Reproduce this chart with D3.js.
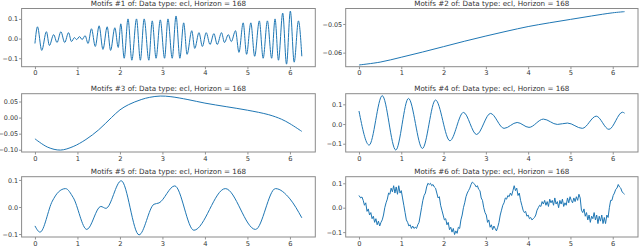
<!DOCTYPE html>
<html><head><meta charset="utf-8">
<script src="https://cdn.jsdelivr.net/npm/d3@7"></script>
<style>html,body{margin:0;padding:0;background:#fff;}svg{display:block;}</style>
</head><body>
<svg id="c" width="640" height="247"></svg>
<script>
const titles = [
  "Motifs #1 of: Data type: ecl, Horizon = 168",
  "Motifs #2 of: Data type: ecl, Horizon = 168",
  "Motifs #3 of: Data type: ecl, Horizon = 168",
  "Motifs #4 of: Data type: ecl, Horizon = 168",
  "Motifs #5 of: Data type: ecl, Horizon = 168",
  "Motifs #6 of: Data type: ecl, Horizon = 168"
];
const xTicks = [0,1,2,3,4,5,6];
const xLim = [-0.314, 6.597];

const yTicks1 = [0.1, 0.0, -0.1];
const yLabels1 = ["0.1","0.0","\u22120.1"];
const yTicks2 = [-0.05, -0.06];
const yLabels2 = ["\u22120.05","\u22120.06"];
const yTicks3 = [0.05, 0.0, -0.05, -0.10];
const yLabels3 = ["0.05","0.00","\u22120.05","\u22120.10"];
const yTicks4 = [0.1, 0.0, -0.1];
const yLabels4 = ["0.1","0.0","\u22120.1"];
const yTicks5 = [0.1, 0.0, -0.1];
const yLabels5 = ["0.1","0.0","\u22120.1"];
const yTicks6 = [0.1, 0.0, -0.1];
const yLabels6 = ["0.1","0.0","\u22120.1"];

const yLim1 = [-0.143, 0.153];
const yLim2 = [-0.0649, -0.0446];
const yLim3 = [-0.107, 0.0743];
const yLim4 = [-0.142, 0.154];
const yLim5 = [-0.111, 0.112];
const yLim6 = [-0.120, 0.127];

// Motif 1: fast oscillation (turning points)
const motif1 = [
 [0,-0.025],[0.06,0.06],[0.16,-0.06],[0.27,0.035],[0.34,-0.035],[0.44,0.02],[0.52,-0.02],
 [0.61,0.035],[0.70,-0.02],[0.79,0.03],[0.86,-0.015],[0.93,0.005],[0.98,-0.005],[1.05,0.01],
 [1.11,-0.005],[1.18,0.015],[1.25,-0.025],[1.33,0.05],[1.42,-0.04],[1.51,0.065],[1.60,-0.055],
 [1.70,0.06],[1.78,-0.06],[1.88,0.055],[1.96,-0.045],[2.02,0.075],[2.10,-0.10],[2.19,0.10],
 [2.28,-0.11],[2.39,0.10],[2.48,-0.11],[2.57,0.10],[2.68,-0.11],[2.76,0.09],[2.85,-0.10],
 [2.95,0.095],[3.05,-0.10],[3.13,0.10],[3.23,-0.10],[3.32,0.115],[3.41,-0.10],[3.50,0.08],
 [3.58,-0.08],[3.69,0.04],[3.76,-0.05],[3.86,0.03],[3.94,-0.04],[4.03,0.03],[4.12,-0.03],
 [4.21,0.025],[4.29,-0.03],[4.39,0.03],[4.46,-0.02],[4.55,0.02],[4.62,-0.015],[4.72,0.04],
 [4.80,-0.07],[4.90,0.08],[4.98,-0.08],[5.08,0.08],[5.17,-0.09],[5.28,0.09],[5.37,-0.10],
 [5.47,0.09],[5.57,-0.10],[5.65,0.10],[5.73,-0.11],[5.83,0.13],[5.92,-0.13],[6.01,0.14],
 [6.10,-0.12],[6.20,0.09],[6.28,-0.09]
];
const motif2 = [
 [0,-0.0643],[0.5,-0.0633],[1,-0.0616],[1.5,-0.0598],[2,-0.0579],[2.5,-0.0560],[3,-0.0542],
 [3.5,-0.0525],[4,-0.0509],[4.5,-0.0496],[5,-0.0484],[5.5,-0.0472],[6,-0.0461],[6.28,-0.0457]
];
const motif3 = [
 [0,-0.066],[0.3,-0.092],[0.6,-0.101],[0.9,-0.090],[1.2,-0.068],[1.5,-0.038],[1.8,0.000],
 [2.0,0.024],[2.2,0.040],[2.5,0.056],[2.7,0.063],[2.95,0.067],[3.2,0.065],[3.6,0.056],
 [4.0,0.045],[4.5,0.034],[5.0,0.023],[5.5,0.009],[5.8,-0.005],[6.0,-0.019],[6.28,-0.043]
];
const motif4 = [
 [0,0.066],[0.24,-0.107],[0.55,0.144],[0.87,-0.132],[1.17,0.13],[1.50,-0.124],[1.81,0.122],
 [2.15,-0.085],[2.47,0.059],[2.78,-0.053],[3.11,0.054],[3.43,-0.022],[3.74,0.008],[4.02,-0.017],
 [4.36,0.025],[4.69,-0.002],[4.93,0.005],[5.28,-0.022],[5.61,0.04],[5.91,-0.027],[6.23,0.06],[6.28,0.055]
];
const motif5 = [
 [0,-0.07],[0.12,-0.093],[0.41,0.022],[0.55,0.055],[0.72,0.068],[0.90,0.035],[1.22,-0.083],
 [1.55,0.002],[1.67,-0.005],[2.03,0.097],[2.45,-0.103],[2.80,0.010],[2.92,0.015],[3.29,0.078],
 [3.74,-0.086],[4.48,0.068],[5.19,-0.083],[5.66,0.068],[6.0,0.03],[6.28,-0.04]
];
const motif6 = [
 [0.00,0.050],[0.04,0.040],[0.07,0.044],[0.10,0.030],[0.13,0.010],[0.16,0.020],[0.19,-0.015],
 [0.22,-0.005],[0.25,-0.030],[0.28,-0.020],[0.31,-0.045],[0.34,-0.035],[0.37,-0.060],[0.40,-0.045],
 [0.43,-0.070],[0.46,-0.055],[0.49,-0.075],[0.52,-0.060],[0.55,-0.050],[0.58,-0.030],[0.61,0.000],
 [0.64,0.020],[0.67,0.035],[0.70,0.060],[0.73,0.055],[0.76,0.080],[0.79,0.065],[0.82,0.090],
 [0.85,0.060],[0.88,0.085],[0.91,0.055],[0.94,0.090],[0.97,0.060],[1.00,0.070],[1.03,0.040],
 [1.06,0.010],[1.09,-0.020],[1.12,-0.050],[1.15,-0.060],[1.18,-0.075],[1.21,-0.070],[1.24,-0.085],
 [1.27,-0.075],[1.30,-0.085],[1.33,-0.080],[1.36,-0.085],[1.39,-0.070],[1.42,-0.060],[1.45,-0.030],
 [1.48,0.000],[1.51,0.030],[1.54,0.050],[1.57,0.060],[1.60,0.085],[1.63,0.100],[1.66,0.095],
 [1.69,0.100],[1.72,0.090],[1.75,0.095],[1.78,0.085],[1.81,0.080],[1.84,0.060],[1.87,0.040],
 [1.90,0.045],[1.93,0.010],[1.96,-0.010],[1.99,-0.030],[2.02,-0.050],[2.05,-0.045],[2.08,-0.070],
 [2.11,-0.060],[2.14,-0.090],[2.17,-0.080],[2.20,-0.100],[2.23,-0.085],[2.26,-0.110],[2.29,-0.095],
 [2.32,-0.105],[2.35,-0.080],[2.38,-0.085],[2.41,-0.050],[2.44,-0.030],[2.47,0.000],[2.50,0.020],
 [2.53,0.045],[2.56,0.060],[2.59,0.070],[2.62,0.080],[2.65,0.095],[2.68,0.105],[2.71,0.100],
 [2.74,0.095],[2.77,0.085],[2.80,0.090],[2.83,0.075],[2.86,0.070],[2.89,0.040],[2.92,0.030],
 [2.95,0.000],[2.98,-0.020],[3.01,-0.030],[3.04,-0.060],[3.07,-0.050],[3.10,-0.080],[3.13,-0.070],
 [3.16,-0.090],[3.19,-0.075],[3.22,-0.085],[3.25,-0.095],[3.28,-0.080],[3.31,-0.060],[3.34,-0.030],
 [3.37,-0.010],[3.40,0.010],[3.43,0.020],[3.46,0.040],[3.49,0.035],[3.52,0.050],[3.55,0.045],
 [3.58,0.060],[3.61,0.050],[3.64,0.070],[3.67,0.090],[3.70,0.070],[3.73,0.080],[3.76,0.050],
 [3.79,0.060],[3.82,0.030],[3.85,0.010],[3.88,-0.010],[3.91,-0.020],[3.94,-0.015],[3.97,-0.035],
 [4.00,-0.030],[4.03,-0.045],[4.06,-0.040],[4.09,-0.050],[4.12,-0.045],[4.15,-0.040],[4.18,-0.030],
 [4.21,-0.010],[4.24,0.000],[4.27,0.010],[4.30,0.005],[4.33,0.025],[4.36,0.015],[4.39,0.030],
 [4.42,0.010],[4.45,0.025],[4.48,0.005],[4.51,0.035],[4.54,0.020],[4.57,0.030],[4.60,0.010],
 [4.63,0.040],[4.66,0.015],[4.69,0.025],[4.72,0.000],[4.75,0.030],[4.78,0.015],[4.81,0.035],
 [4.84,0.005],[4.87,0.020],[4.90,0.010],[4.93,0.040],[4.96,0.020],[4.99,0.045],[5.02,0.030],
 [5.05,0.020],[5.08,0.040],[5.11,0.025],[5.14,0.045],[5.17,0.030],[5.20,0.055],[5.23,0.040],
 [5.26,-0.010],[5.29,-0.020],[5.32,-0.005],[5.35,-0.035],[5.38,-0.020],[5.41,-0.050],[5.44,-0.030],
 [5.47,-0.060],[5.50,-0.035],[5.53,-0.045],[5.56,-0.020],[5.59,-0.050],[5.62,-0.030],[5.65,-0.065],
 [5.68,-0.035],[5.71,-0.055],[5.74,-0.030],[5.77,-0.065],[5.80,-0.040],[5.83,-0.065],[5.86,-0.030],
 [5.89,-0.040],[5.92,0.000],[5.95,0.030],[5.98,0.030],[6.01,0.050],[6.04,0.060],[6.07,0.075],
 [6.10,0.080],[6.13,0.095],[6.16,0.085],[6.19,0.080],[6.22,0.065],[6.25,0.060],[6.28,0.055]
];

const panels = [
  {data: motif1, ylim: yLim1, yt: yTicks1, yl: yLabels1, curve: d3.curveMonotoneX},
  {data: motif2, ylim: yLim2, yt: yTicks2, yl: yLabels2, curve: d3.curveCatmullRom},
  {data: motif3, ylim: yLim3, yt: yTicks3, yl: yLabels3, curve: d3.curveCatmullRom},
  {data: motif4, ylim: yLim4, yt: yTicks4, yl: yLabels4, curve: d3.curveMonotoneX},
  {data: motif5, ylim: yLim5, yt: yTicks5, yl: yLabels5, curve: d3.curveMonotoneX},
  {data: motif6, ylim: yLim6, yt: yTicks6, yl: yLabels6, curve: d3.curveLinear}
];

const cols = [[21.6, 315.3], [345.7, 638]];
const rows = [[8.5, 66.7], [93.7, 152], [176.7, 237]];
const font = "DejaVu Sans";
const svg = d3.select("#c");

panels.forEach((p, i) => {
  const [x0, x1] = cols[i % 2];
  const [y0, y1] = rows[Math.floor(i / 2)];
  const x = d3.scaleLinear().domain(xLim).range([x0, x1]);
  const y = d3.scaleLinear().domain(p.ylim).range([y1, y0]);
  const g = svg.append("g");

  const xa = g.append("g").attr("transform", `translate(0,${y1})`)
    .call(d3.axisBottom(x).tickValues(xTicks).tickFormat(d3.format("d")).tickSize(2.5).tickPadding(1.5));
  xa.select(".domain").remove();
  xa.selectAll("line").attr("stroke", "#777").attr("stroke-width", 0.8);
  xa.selectAll("text").attr("font-family", font).attr("font-size", 6.7).attr("fill", "#333");

  const ya = g.append("g").attr("transform", `translate(${x0},0)`)
    .call(d3.axisLeft(y).tickValues(p.yt).tickFormat((d, k) => p.yl[k]).tickSize(2.5).tickPadding(1));
  ya.select(".domain").remove();
  ya.selectAll("line").attr("stroke", "#777").attr("stroke-width", 0.8);
  ya.selectAll("text").attr("font-family", font).attr("font-size", 6.4).attr("fill", "#333");

  g.append("rect").attr("x", x0).attr("y", y0).attr("width", x1 - x0).attr("height", y1 - y0)
    .attr("fill", "none").attr("stroke", "#8a8a8a").attr("stroke-width", 1);

  const line = d3.line().x(d => x(d[0])).y(d => y(d[1])).curve(p.curve);
  g.append("path").datum(p.data).attr("d", line)
    .attr("fill", "none").attr("stroke", "#1f77b4").attr("stroke-width", 1.0)
    .attr("stroke-linejoin", "round");

  g.append("text").attr("x", (x0 + x1) / 2).attr("y", y0 - 2.6)
    .attr("text-anchor", "middle").attr("font-family", font).attr("font-size", 7.2)
    .attr("fill", "#333").text(titles[i]);
});
</script>
</body></html>
